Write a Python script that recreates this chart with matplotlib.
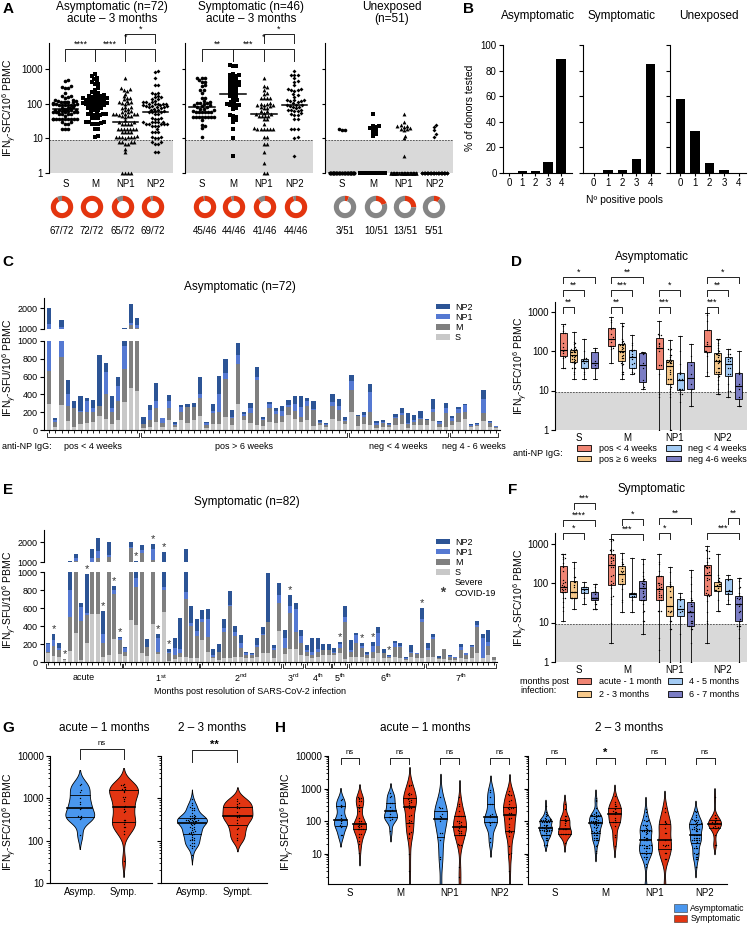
import numpy as np
import matplotlib
matplotlib.use("Agg")
import matplotlib.pyplot as plt
import matplotlib.transforms as mtransforms
from matplotlib.patches import Patch
from matplotlib.lines import Line2D
from matplotlib.ticker import NullLocator, LogLocator

plt.rcParams["font.family"] = ["Liberation Sans", "DejaVu Sans"]
plt.rcParams["mathtext.fontset"] = "custom"
plt.rcParams["mathtext.rm"] = "Liberation Sans"
plt.rcParams["mathtext.it"] = "Liberation Sans:italic"
plt.rcParams["axes.linewidth"] = 0.8

# ------------------------------------------------------------------ data
pools = ["S", "M", "NP1", "NP2"]

# A: donuts (positive donors / tested)
asym_pos = [67, 72, 65, 69]
asym_n = 72
symp_pos = [45, 44, 41, 44]
symp_n = 46
unexp_pos = [3, 10, 13, 5]
unexp_n = 51

# A: unexposed donors (0 = no response)
unexp_S = [18, 17, 17] + [0] * 48
unexp_M = [50, 23, 22, 21, 20, 19, 17, 15, 13, 12] + [0] * 41
unexp_NP1 = [52, 30, 24, 22, 22, 21, 20, 19, 18, 17, 12, 10, 3] + [0] * 38
unexp_NP2 = [25, 21, 17, 13, 11] + [0] * 46

# B: number of positive pools
n_pos_pools = [0, 1, 2, 3, 4]
b_asym = [0, 1.4, 1.4, 8.3, 88.9]
b_symp = [0, 2.2, 2.2, 10.9, 84.8]
b_unexp = [58.0, 33.0, 7.8, 2.0, 0]

# C: asymptomatic donors, SFU per pool (groups of anti-NP IgG status)
asym_groups = ["pos < 4 weeks", "pos > 6 weeks", "neg < 4 weeks", "neg 4 - 6 weeks"]
asym_group_n = [15, 33, 16, 8]
asym_S = [292, 37, 281, 101, 37, 71, 75, 90, 161, 124, 67, 109, 315, 476, 442,
          19, 37, 94, 37, 109, 30, 109, 75, 109, 157, 26, 64, 64, 150, 60, 296, 112,
          75, 52, 49, 94, 79, 94, 169, 120, 94, 112, 49, 56, 37, 127, 101, 70,
          198, 49, 67, 56, 26, 37, 30, 56, 67, 19, 56, 56, 60, 101, 37, 37,
          56, 94, 120, 37, 45, 105, 37, 19]
asym_M = [375, 49, 543, 169, 206, 135, 131, 116, 112, 277, 131, 221, 370, 724, 608,
          48, 75, 157, 45, 142, 26, 97, 180, 153, 199, 30, 123, 142, 423, 80, 442, 49,
          112, 513, 67, 153, 101, 67, 93, 97, 56, 154, 172, 26, 19, 139, 120, 30,
          251, 105, 83, 142, 30, 38, 26, 75, 102, 48, 38, 64, 50, 105, 27, 158,
          49, 93, 86, 12, 11, 90, 38, 18]
asym_NP1 = [563, 26, 276, 134, 8, 7, 120, 45, 0, 254, 45, 164, 259, 100, 150,
            0, 113, 79, 49, 79, 15, 49, 7, 0, 52, 19, 26, 195, 64, 10, 105, 19,
            56, 30, 8, 41, 33, 56, 19, 71, 112, 60, 15, 12, 11, 52, 52, 15,
            102, 0, 19, 233, 19, 11, 8, 11, 18, 8, 18, 11, 5, 26, 30, 48,
            26, 45, 75, 11, 15, 150, 11, 4]
asym_NP2 = [800, 23, 350, 154, 75, 169, 30, 90, 566, 98, 135, 98, 96, 900, 350,
            83, 56, 202, 8, 60, 15, 30, 26, 38, 187, 11, 79, 206, 157, 80, 138, 18,
            60, 109, 26, 23, 30, 49, 52, 98, 120, 37, 90, 22, 8, 83, 72, 30,
            67, 10, 37, 86, 26, 26, 15, 38, 64, 112, 57, 82, 10, 113, 7, 57,
            26, 30, 11, 7, 4, 100, 15, 4]

# E: symptomatic donors, SFU per pool (months post resolution)
symp_groups = ["acute", "1$^{\\mathrm{st}}$", "2$^{\\mathrm{nd}}$", "3$^{\\mathrm{rd}}$",
               "4$^{\\mathrm{th}}$", "5$^{\\mathrm{th}}$", "6$^{\\mathrm{th}}$", "7$^{\\mathrm{th}}$"]
symp_group_n = [14, 14, 15, 4, 5, 3, 14, 13]
symp_S = [100, 70, 59, 25, 122, 326, 20, 207, 533, 533, 59, 78, 256, 89,
          67, 467, 411, 104, 70, 422, 85, 552, 11, 33, 60, 59, 41, 41,
          244, 115, 41, 22, 41, 41, 59, 59, 41, 41, 59, 104, 104, 41, 348,
          89, 144, 144, 78,
          67, 41, 59, 78, 78,
          78, 104, 30,
          52, 59, 59, 41, 41, 96, 41, 41, 59, 41, 22, 59, 41, 41,
          59, 59, 30, 30, 22, 22, 41, 33, 41, 96, 41, 78, 22]
symp_M = [10, 111, 74, 3, 382, 724, 439, 315, 467, 667, 148, 1189, 500, 155,
          48, 1250, 426, 1330, 100, 678, 30, 248, 93, 45, 40, 645, 359, 252,
          204, 166, 18, 93, 296, 585, 234, 93, 37, 33, 111, 196, 337, 92, 304,
          70, 397, 189, 129,
          48, 37, 56, 55, 55,
          18, 48, 418,
          63, 148, 93, 37, 74, 82, 55, 18, 111, 122, 11, 37, 48, 407,
          74, 193, 11, 111, 37, 19, 92, 45, 129, 297, 5, 100, 30]
symp_NP1 = [90, 63, 19, 2, 296, 150, 148, 20, 200, 333, 100, 100, 44, 19,
            44, 50, 93, 150, 0, 550, 148, 37, 4, 74, 50, 77, 37, 55,
            26, 193, 19, 0, 44, 7, 44, 63, 18, 11, 19, 11, 7, 19, 92,
            104, 81, 256, 86,
            18, 37, 26, 0, 5,
            19, 44, 56,
            18, 93, 26, 10, 63, 141, 8, 8, 37, 10, 7, 15, 7, 26,
            19, 29, 8, 3, 11, 11, 37, 18, 8, 18, 217, 41, 0]
symp_NP2 = [10, 67, 55, 3, 250, 180, 52, 436, 433, 650, 260, 650, 48, 18,
            11, 250, 130, 267, 82, 233, 48, 680, 36, 118, 340, 852, 185, 126,
            104, 111, 66, 89, 93, 156, 67, 85, 19, 19, 74, 82, 537, 37, 130,
            93, 122, 63, 63,
            56, 155, 129, 67, 62,
            37, 30, 122,
            111, 26, 29, 19, 41, 74, 40, 11, 30, 42, 12, 78, 8, 130,
            55, 30, 18, 4, 8, 7, 30, 8, 11, 48, 48, 137, 0]
severe = [1, 3, 7, 10, 12, 13, 16, 19, 20, 21, 22, 44, 53, 57, 59, 62, 68]

# D / F legend labels
igg_labels = ["pos < 4 weeks", "pos \u2265 6 weeks", "neg < 4 weeks", "neg 4-6 weeks"]
month_labels = ["acute - 1 month", "2 - 3 months", "4 - 5 months", "6 - 7 months"]

# significance marks: (pool, box i, box j, y pixel, text)
d_sig = [(0, 0, 3, 277, "*"), (0, 0, 2, 290, "**"), (0, 0, 1, 307, "**"),
         (1, 0, 3, 277, "**"), (1, 0, 2, 290, "***"), (1, 0, 1, 307, "**"),
         (2, 0, 2, 290, "*"), (2, 0, 1, 307, "***"),
         (3, 0, 3, 277, "*"), (3, 0, 2, 290, "**"), (3, 0, 1, 307, "***")]
f_sig = [(0, 1, 3, 503, "***"), (0, 0, 3, 520, "****"), (0, 0, 2, 533, "*"),
         (1, 1, 3, 519, "*"), (1, 0, 3, 534, "***"),
         (2, 0, 3, 518, "**"), (2, 0, 1, 533, "*"),
         (3, 2, 3, 518, "**"), (3, 0, 3, 533, "***")]
h_sig_early = ["ns", "ns", "ns", "ns"]
h_sig_late = ["ns", "*", "ns", "ns"]

# ------------------------------------------------------------------ style
RED = "#E3350F"
DONUT_GREY = "#858585"
SHADE = "#D9D9D9"
BAR_COLS = ["#C8C8C8", "#7F7F7F", "#5579D2", "#2C5495"]
BOX_COLS = ["#EF8473", "#F6C88A", "#A3CBF4", "#7B7DC4"]
VIO_ASYM = "#4A97EE"
VIO_SYMP = "#E23512"
THRESH = 9

W, H = 749, 925
fig = plt.figure(figsize=(W / 100, H / 100), dpi=100)


def px_ax(l, t, r, b):
    return fig.add_axes([l / W, 1 - b / H, (r - l) / W, (b - t) / H])


def fy(y):
    return 1 - y / H


def ftext(x, y, s, **kw):
    kw.setdefault("ha", "center")
    kw.setdefault("va", "center")
    fig.text(x / W, fy(y), s, **kw)


def style(ax, fs=7):
    for s in ("top", "right"):
        ax.spines[s].set_visible(False)
    ax.tick_params(labelsize=fs, width=0.8, length=3, pad=1.5)


def bracket(ax, x1, x2, y, text, drop=6, fs=6.5, bold=False, gap=0.5):
    tr = mtransforms.blended_transform_factory(ax.transData, fig.transFigure)
    ax.plot([x1, x1, x2, x2], [fy(y + drop), fy(y), fy(y), fy(y + drop)],
            transform=tr, color="#222222", lw=0.7, clip_on=False)
    if text:
        ax.text((x1 + x2) / 2, fy(y - gap), text, transform=tr, ha="center",
                va="bottom", fontsize=fs, weight="bold" if bold else "normal")


def swarm_offsets(ypx, d, max_half):
    ypx = np.asarray(ypx, float)
    order = np.argsort(ypx)
    step = d * 0.5
    cands = [0.0]
    k = 1
    while k * step <= max_half:
        cands += [k * step, -k * step]
        k += 1
    xs = np.zeros(len(ypx))
    px, py = [], []
    for j, i in enumerate(order):
        y = ypx[i]
        chosen = None
        for c in cands:
            if all((c - a) ** 2 + (y - b) ** 2 >= d * d * 0.9
                   for a, b in zip(px, py) if abs(y - b) < d):
                chosen = c
                break
        if chosen is None:
            chosen = cands[j % len(cands)]
        xs[i] = chosen
        px.append(chosen)
        py.append(y)
    return xs


def log_shade(ax, bottom):
    ax.axhspan(bottom, THRESH, color=SHADE, lw=0, zorder=0)
    ax.axhline(THRESH, color="#444444", lw=0.6, ls=(0, (2, 1.5)), zorder=1)


# ------------------------------------------------------------------ panel A
a_boxes = [(49, 173), (185, 313), (325, 453)]
a_data = [[asym_S, asym_M, asym_NP1, asym_NP2],
          [symp_S[:47], symp_M[:47], symp_NP1[:47], symp_NP2[:47]],
          [unexp_S, unexp_M, unexp_NP1, unexp_NP2]]
a_titles = ["Asymptomatic (n=72)\nacute \u2013 3 months",
            "Symptomatic (n=46)\nacute \u2013 3 months", "Unexposed\n(n=51)"]
a_title_x = [112, 251, 392]
markers = ["o", "s", "^", "D"]
msizes = [2.6, 2.3, 2.8, 2.0]
a_top = 10 ** 3.75
for k, ((l, r), data) in enumerate(zip(a_boxes, a_data)):
    ax = px_ax(l, 43, r, 173)
    style(ax)
    ax.set_yscale("log")
    ax.set_ylim(1, a_top)
    ax.set_xlim(-0.55, 3.6)
    log_shade(ax, 1)
    for p, vals in enumerate(data):
        v = np.maximum(np.asarray(vals, float), 1)
        off = swarm_offsets(np.log10(v) * 34.7, 3.0, 13) / 30.0
        ax.plot(p + off, v, ls="none", marker=markers[p], ms=msizes[p], color="k",
                mew=0, clip_on=False, zorder=3)
        med = np.median(v)
        ax.plot([p - 0.42, p + 0.42], [med, med], color="k", lw=1.1, zorder=4)
    ax.spines["bottom"].set_visible(False)
    ax.set_xticks(range(4))
    ax.set_xticklabels(pools)
    ax.tick_params(axis="x", length=0, pad=4)
    ax.yaxis.set_minor_locator(NullLocator())
    ax.set_yticks([1, 10, 100, 1000])
    if k == 0:
        ax.set_yticklabels(["1", "10", "100", "1000"])
    else:
        ax.set_yticklabels([])
        ax.tick_params(axis="y", length=2)
    ftext(a_title_x[k], 13, a_titles[k], fontsize=8.5, linespacing=1.05)
    if k < 2:
        s = ["****", "**"][k]
        s2 = ["****", "***"][k]
        bracket(ax, 0, 1, 49, s, drop=12)
        bracket(ax, 1, 2, 49, s2, drop=12)
        bracket(ax, 1, 3, 49, "", drop=12)
        ax.text(2.0, fy(42), "*", transform=mtransforms.blended_transform_factory(
            ax.transData, fig.transFigure), ha="center", va="bottom", fontsize=6.5)
        bracket(ax, 2, 3, 34, "*", drop=9)
ftext(10, 108, "IFN$_\\gamma$-SFC/10$^6$ PBMC", rotation=90, fontsize=7.5)

# donuts
donut_x = [[62, 92, 123, 153], [205, 234, 265, 296], [345, 376, 405, 434]]
donut_counts = [(asym_pos, asym_n), (symp_pos, symp_n), (unexp_pos, unexp_n)]
for cx_list, (pos_list, n) in zip(donut_x, donut_counts):
    for cx, npos in zip(cx_list, pos_list):
        dax = px_ax(cx - 14, 193, cx + 14, 221)
        dax.pie([npos, n - npos], colors=[RED, DONUT_GREY], startangle=90,
                counterclock=False, wedgeprops=dict(width=0.46, lw=0))
        dax.set_aspect("equal")
        ftext(cx, 231, f"{npos}/{n}", fontsize=7)

# ------------------------------------------------------------------ panel B
b_boxes = [(503, 572, (-0.5, 4.85), 0.72), (583, 660, (-0.75, 4.65), 0.64),
           (670, 746, (-0.7, 4.5), 0.64)]
b_vals = [b_asym, b_symp, b_unexp]
b_titles = ["Asymptomatic", "Symptomatic", "Unexposed"]
b_title_x = [538, 622, 709]
for k, ((l, r, xl, bw), vals) in enumerate(zip(b_boxes, b_vals)):
    ax = px_ax(l, 45, r, 173)
    style(ax)
    ax.bar(n_pos_pools, vals, width=bw, color="k")
    ax.set_xlim(*xl)
    ax.set_ylim(0, 100)
    ax.set_xticks(n_pos_pools)
    ax.tick_params(axis="x", length=2)
    ax.set_yticks(range(0, 101, 20))
    if k > 0:
        ax.set_yticklabels([])
    ftext(b_title_x[k], 16, b_titles[k], fontsize=8.5)
ftext(470, 108, "% of donors tested", rotation=90, fontsize=7.5)
ftext(624, 200, "N\u00ba positive pools", fontsize=7.5)


# ------------------------------------------------------------------ panels C and E
def bar_panel(l, r, t_hi, b_hi, t_lo, b_lo, hi_top, xl, S, M, NP1, NP2):
    lo = px_ax(l, t_lo, r, b_lo)
    hi = px_ax(l, t_hi, r, b_hi)
    x = np.arange(len(S))
    for ax in (lo, hi):
        base = np.zeros(len(S))
        for vals, col in zip((S, M, NP1, NP2), BAR_COLS):
            v = np.asarray(vals, float)
            ax.bar(x, v, bottom=base, width=0.68, color=col, lw=0)
            base = base + v
        style(ax, 6.5)
        ax.set_xlim(*xl)
    lo.set_ylim(0, 1000)
    lo.set_yticks(range(0, 1001, 200))
    lo.set_xticks(x)
    lo.set_xticklabels([])
    lo.tick_params(axis="x", length=2, width=0.6)
    hi.set_ylim(1000, hi_top)
    hi.set_yticks([1000, 2000])
    hi.spines["bottom"].set_visible(False)
    hi.set_xticks([])
    return lo, hi, base


def group_brackets(ax, sizes, labels, y_line, y_tick, y_lab, fs=6.5):
    tr = mtransforms.blended_transform_factory(ax.transData, fig.transFigure)
    start = 0
    for n, lab in zip(sizes, labels):
        x1, x2 = start - 0.35, start + n - 0.65
        ax.plot([x1, x1, x2, x2], [fy(y_tick), fy(y_line), fy(y_line), fy(y_tick)],
                transform=tr, color="#333333", lw=0.7, clip_on=False)
        ax.text((x1 + x2) / 2, fy(y_lab), lab, transform=tr, ha="center",
                va="center", fontsize=fs)
        start += n


pool_handles = [Patch(facecolor=c, lw=0) for c in BAR_COLS[::-1]]
pool_labels = pools[::-1]

c_lo, c_hi, c_tot = bar_panel(44, 500, 298, 329, 341, 430, 2500, (-0.8, 71.6),
                              asym_S, asym_M, asym_NP1, asym_NP2)
group_brackets(c_lo, asym_group_n, asym_groups, 437, 433, 447)
ftext(2, 447, "anti-NP IgG:", ha="left", fontsize=6.5)
ftext(240, 287, "Asymptomatic (n=72)", fontsize=8.5)
ftext(10, 368, "IFN$_\\gamma$-SFU/10$^6$ PBMC", rotation=90, fontsize=7.5)
fig.legend(pool_handles, pool_labels, loc="upper left", bbox_to_anchor=(436 / W, fy(303)),
           frameon=False, fontsize=6.5, handlelength=1.5, handleheight=0.5,
           labelspacing=0.12, handletextpad=0.6, borderpad=0, borderaxespad=0)

e_lo, e_hi, e_tot = bar_panel(44, 497, 530, 562, 572, 662, 2600, (-0.75, 81.6),
                              symp_S, symp_M, symp_NP1, symp_NP2)
group_brackets(e_lo, symp_group_n, symp_groups, 668, 664, 678)
for i in severe:
    ax = e_hi if e_tot[i] > 1000 else e_lo
    ax.annotate("*", (i, e_tot[i]), xytext=(0, 0), textcoords="offset points",
                ha="center", va="bottom", fontsize=8, color="#333333",
                annotation_clip=False)
ftext(250, 691, "Months post resolution of SARS-CoV-2 infection", fontsize=6.5)
ftext(247, 502, "Symptomatic (n=82)", fontsize=8.5)
ftext(10, 600, "IFN$_\\gamma$-SFU/10$^6$ PBMC", rotation=90, fontsize=7.5)
sev_handle = Line2D([], [], ls="none", marker="$*$", color="#333333", ms=3.5, mew=0.3)
fig.legend(pool_handles + [sev_handle], pool_labels + ["Severe\nCOVID-19"],
           loc="upper left", bbox_to_anchor=(436 / W, fy(538)),
           frameon=False, fontsize=6.5, handlelength=1.5, handleheight=0.5,
           labelspacing=0.12, handletextpad=0.6, borderpad=0, borderaxespad=0)


# ------------------------------------------------------------------ panels D and F
def split_groups(vals, sizes):
    out, s = [], 0
    for n in sizes:
        out.append(np.asarray(vals[s:s + n], float))
        s += n
    return out


box_off = [-0.33, -0.11, 0.11, 0.33]


def box_panel(t, b, pool_vals, sizes, sig, title, title_y):
    ax = px_ax(555, t, 747, b)
    style(ax)
    ax.set_yscale("log")
    top = 10 ** ((b - t) / 39.5)
    ax.set_ylim(1, top)
    ax.set_xlim(0.5, 4.5)
    log_shade(ax, 1)
    for p, vals in enumerate(pool_vals):
        for g, gv in enumerate(split_groups(vals, sizes)):
            pos = p + 1 + box_off[g]
            v = np.maximum(gv, 1)
            ax.boxplot([v], positions=[pos], widths=0.15, whis=(0, 100),
                       patch_artist=True, showfliers=False, manage_ticks=False,
                       boxprops=dict(facecolor=BOX_COLS[g], edgecolor="k", lw=0.6),
                       medianprops=dict(color="k", lw=0.8),
                       whiskerprops=dict(lw=0.6), capprops=dict(lw=0.6))
            off = swarm_offsets(np.log10(v) * 39.5, 1.6, 3.0) / 48.0
            ax.plot(pos + off, v, ls="none", marker="o", ms=1.0, color="k",
                    mew=0, zorder=5)
    ax.spines["bottom"].set_visible(False)
    ax.set_xticks([1, 2, 3, 4])
    ax.set_xticklabels(pools)
    ax.tick_params(axis="x", length=0, pad=2)
    ax.yaxis.set_minor_locator(NullLocator())
    ax.set_yticks([1, 10, 100, 1000])
    ax.set_yticklabels(["1", "10", "100", "1000"])
    for p, i, j, y, s in sig:
        bracket(ax, p + 1 + box_off[i], p + 1 + box_off[j], y, s, drop=6)
    ftext(652, title_y, title, fontsize=8.5)
    return ax


box_handles = [Patch(facecolor=c, edgecolor="k", lw=0.6) for c in BOX_COLS]

d_ax = box_panel(302, 430, [asym_S, asym_M, asym_NP1, asym_NP2], asym_group_n,
                 d_sig, "Asymptomatic", 257)
ftext(521, 366, "IFN$_\\gamma$-SFC/10$^6$ PBMC", rotation=90, fontsize=7.5)
ftext(538, 453, "anti-NP IgG:", fontsize=6.5)
fig.legend(box_handles, igg_labels, ncol=2, loc="upper left",
           bbox_to_anchor=(577 / W, fy(444)), frameon=False, fontsize=6.5,
           handlelength=1.6, handleheight=0.6, labelspacing=0.2, handletextpad=0.8,
           columnspacing=1.1, borderpad=0, borderaxespad=0)

f_sizes = [symp_group_n[0] + symp_group_n[1], symp_group_n[2] + symp_group_n[3],
           symp_group_n[4] + symp_group_n[5], symp_group_n[6] + symp_group_n[7]]
f_ax = box_panel(533, 662, [symp_S, symp_M, symp_NP1, symp_NP2], f_sizes,
                 f_sig, "Symptomatic", 489)
ftext(521, 598, "IFN$_\\gamma$-SFC/10$^6$ PBMC", rotation=90, fontsize=7.5)
ftext(520, 686, "months post\ninfection:", ha="left", fontsize=6.5, linespacing=1.1)
fig.legend(box_handles, month_labels, ncol=2, loc="upper left",
           bbox_to_anchor=(577 / W, fy(677)), frameon=False, fontsize=6.5,
           handlelength=1.6, handleheight=0.6, labelspacing=0.45, handletextpad=0.8,
           columnspacing=0.7, borderpad=0, borderaxespad=0)


# ------------------------------------------------------------------ panels G and H
def violin(ax, pos, vals, color, hw, decade, ppu, bwf=0.7):
    v = np.maximum(np.asarray(vals, float), 1)
    lv = np.log10(v)
    n = len(lv)
    bw = bwf * 1.06 * lv.std(ddof=1) * n ** -0.2
    grid = np.linspace(lv.min() - 2.2 * bw, lv.max() + 2.2 * bw, 300)
    dens = np.exp(-0.5 * ((grid[:, None] - lv[None, :]) / bw) ** 2).sum(axis=1)
    dens = dens / dens.max() * hw
    ax.fill_betweenx(10 ** grid, pos - dens, pos + dens, facecolor=color,
                     edgecolor="k", lw=0.6, zorder=2)
    q1, med, q3 = np.percentile(lv, [25, 50, 75])
    for q, lw in ((q1, 0.6), (med, 1.2), (q3, 0.6)):
        w = np.interp(q, grid, dens)
        ax.plot([pos - w, pos + w], [10 ** q] * 2, color="k", lw=lw, zorder=3)
    off = swarm_offsets(lv * decade, 1.7, hw * ppu * 0.8) / ppu
    lim = np.interp(lv, grid, dens) * 0.85
    off = np.clip(off, -lim, lim)
    ax.plot(pos + off, v, ls="none", marker="o", ms=1.0, color="k", mew=0, zorder=4)


def log_axis(ax, lo, labels):
    style(ax)
    ax.set_yscale("log")
    ax.set_ylim(lo, 10000)
    ax.set_yticks([10, 100, 1000, 10000])
    ax.yaxis.set_minor_locator(LogLocator(base=10, subs=np.arange(2, 10)))
    ax.tick_params(axis="y", which="minor", length=1.5, width=0.6)
    ax.tick_params(axis="x", length=0, pad=3)
    if labels:
        ax.set_yticklabels(["10", "100", "1000", "10000"])
    else:
        ax.set_yticklabels([])
    ax.yaxis.set_minor_formatter(plt.NullFormatter())


def totals(*pool_lists):
    return np.sum([np.asarray(p, float) for p in pool_lists], axis=0)


asym_tot = totals(asym_S, asym_M, asym_NP1, asym_NP2)
symp_tot = totals(symp_S, symp_M, symp_NP1, symp_NP2)
n_a1 = asym_group_n[0]
n_s1 = f_sizes[0]
n_s2 = f_sizes[0] + f_sizes[1]

g_sets = [(50, 152, asym_tot[:n_a1], symp_tot[:n_s1], ["Asymp.", "Symp."], "ns", False,
           "acute \u2013 1 months", 104),
          (161, 267, asym_tot[n_a1:], symp_tot[n_s1:n_s2], ["Asymp.", "Sympt."], "**", True,
           "2 \u2013 3 months", 212)]
for k, (l, r, av, sv, xl, sig, bold, title, tx) in enumerate(g_sets):
    ax = px_ax(l, 756, r, 883)
    log_axis(ax, 10, k == 0)
    ax.set_xlim(0.32, 2.65)
    violin(ax, 1, av, VIO_ASYM, 0.33, 42.5, 44)
    violin(ax, 2, sv, VIO_SYMP, 0.33, 42.5, 44)
    ax.set_xticks([1, 2])
    ax.set_xticklabels(xl)
    if bold:
        bracket(ax, 1, 2, 750, sig, drop=12, fs=8, bold=True, gap=0)
    else:
        bracket(ax, 1, 2, 749, sig, drop=10, fs=5.5, gap=2)
    ftext(tx, 728, title, fontsize=8.5)
ftext(10, 822, "IFN$_\\gamma$-SFC/10$^6$ PBMC", rotation=90, fontsize=7.5)

asym_pools = [np.asarray(p, float) for p in (asym_S, asym_M, asym_NP1, asym_NP2)]
symp_pools = [np.asarray(p, float) for p in (symp_S, symp_M, symp_NP1, symp_NP2)]
h_sets = [(328, 522, (0.56, 4.44), slice(0, n_a1), slice(0, n_s1), h_sig_early,
           "acute \u2013 1 months", 425),
          (528, 727, (0.46, 4.44), slice(n_a1, None), slice(n_s1, n_s2), h_sig_late,
           "2 \u2013 3 months", 629)]
for k, (l, r, xl, sa, ss, sigs, title, tx) in enumerate(h_sets):
    ax = px_ax(l, 756, r, 884)
    log_axis(ax, 1.2, k == 0)
    ax.set_xlim(*xl)
    for p in range(4):
        violin(ax, p + 1 - 0.19, asym_pools[p][sa], VIO_ASYM, 0.13, 32.7, 50)
        violin(ax, p + 1 + 0.19, symp_pools[p][ss], VIO_SYMP, 0.13, 32.7, 50)
        if sigs[p] == "ns":
            bracket(ax, p + 1 - 0.19, p + 1 + 0.19, 758, "ns", drop=6, fs=5.5, gap=2)
        else:
            bracket(ax, p + 1 - 0.19, p + 1 + 0.19, 758, sigs[p], drop=6, fs=8,
                    bold=True, gap=0)
    ax.set_xticks([1, 2, 3, 4])
    ax.set_xticklabels(pools)
    ftext(tx, 728, title, fontsize=8.5)
ftext(288, 822, "IFN$_\\gamma$-SFC/10$^6$ PBMC", rotation=90, fontsize=7.5)
fig.legend([Patch(facecolor=VIO_ASYM, edgecolor="#333333", lw=0.4),
            Patch(facecolor=VIO_SYMP, edgecolor="#333333", lw=0.4)],
           ["Asymptomatic", "Symptomatic"], loc="upper left",
           bbox_to_anchor=(674 / W, fy(904)), frameon=False, fontsize=6.2,
           handlelength=1.5, handleheight=0.9, labelspacing=0.15, handletextpad=0.4,
           borderpad=0, borderaxespad=0)

# ------------------------------------------------------------------ panel letters
for letter, x, y in [("A", 8, 9), ("B", 468, 9), ("C", 8, 262), ("D", 516, 262),
                     ("E", 8, 490), ("F", 513, 490), ("G", 8, 728), ("H", 281, 728)]:
    ftext(x, y, letter, fontsize=11, weight="bold")

fig.savefig("out.png", dpi=100)
